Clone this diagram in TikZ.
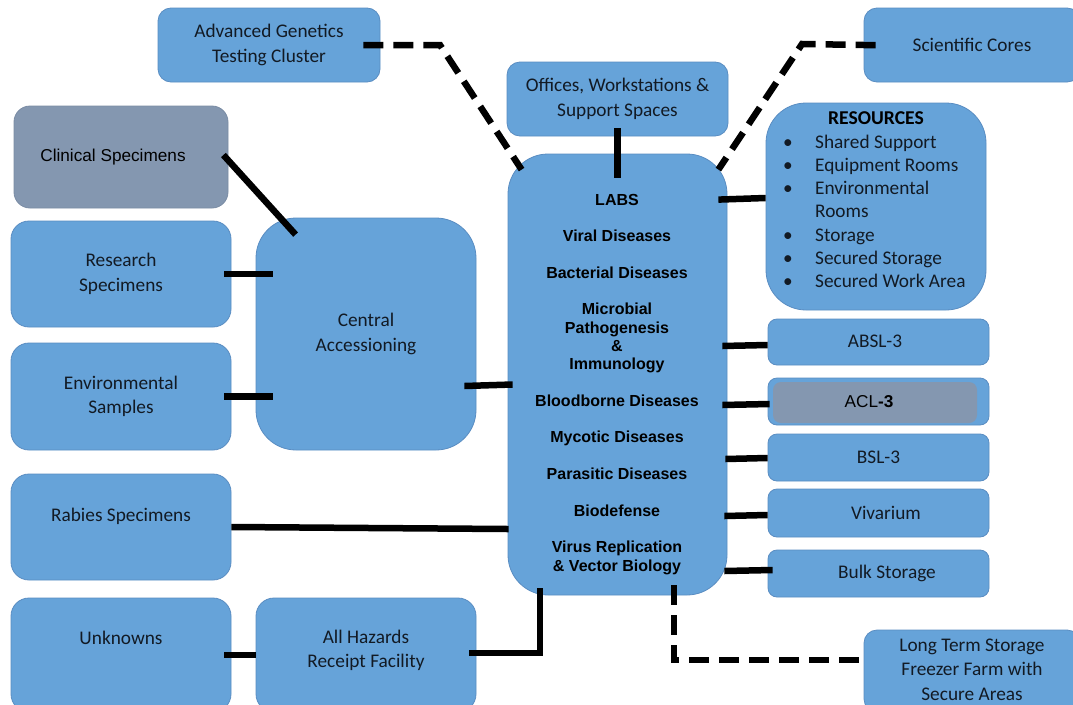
\documentclass[tikz,border=0pt]{standalone}
\usepackage{fontspec}
\setmainfont{Carlito}
\newfontfamily\arialfont{Liberation Sans}
\usetikzlibrary{calc}

\definecolor{boxblue}{HTML}{66A3D9}
\definecolor{boxedge}{HTML}{5A8DC2}
\definecolor{boxgray}{HTML}{8497B0}
\definecolor{grayedge}{HTML}{7A8CA4}
\definecolor{txtdark}{HTML}{121A24}

\begin{document}
\begin{tikzpicture}[x=1pt,y=-1pt,
  box/.style={draw=boxedge, line width=0.8pt, fill=boxblue, rounded corners=13pt,
    align=center, text=txtdark, inner sep=0pt,
    font=\fontsize{19.3}{24.3}\selectfont},
  bigbox/.style={box, rounded corners=40pt},
  slim/.style={box, rounded corners=9pt, minimum width=221pt},
  graybox/.style={box, fill=boxgray, draw=grayedge, text=black,
    font=\arialfont\fontsize{17.2}{20}\selectfont},
  conn/.style={line width=6.5pt, black},
  dconn/.style={conn, dash pattern=on 20pt off 10pt},
]
\useasboundingbox (0,0) rectangle (1073,704);
\fill[white] (0,0) rectangle (1073,704);

% top row
\node[box, minimum width=222pt, minimum height=74pt] (agtc) at (269,45) {\raisebox{-1pt}{\begin{tabular}{@{}c@{}}Advanced Genetics\\Testing Cluster\end{tabular}}};
\node[box, minimum width=216pt, minimum height=74pt] (cores) at (972,45) {Scientific Cores};
\node[box, minimum width=221pt, minimum height=74pt] (offices) at (617.5,99) {\raisebox{-1pt}{\begin{tabular}{@{}c@{}}Offices, Workstations \&\\Support Spaces\end{tabular}}};

% intake side
\node[graybox, minimum width=214pt, minimum height=102pt, rounded corners=16pt] (clinical) at (121,157) {\hspace*{-16pt}Clinical Specimens};
\node[box, minimum width=220pt, minimum height=106pt, rounded corners=18pt] (research) at (121,274) {Research\\Specimens};
\node[box, minimum width=220pt, minimum height=107pt, rounded corners=18pt] (environ) at (121,396.5) {Environmental\\Samples};
\node[bigbox, minimum width=220pt, minimum height=232pt] (central) at (366,334) {\raisebox{3pt}{\begin{tabular}{@{}c@{}}Central\\Accessioning\end{tabular}}};
\node[box, minimum width=220pt, minimum height=106pt, rounded corners=18pt] (rabies) at (121,527) {\raisebox{6pt}[0pt][0pt]{Rabies Specimens}};
\node[box, minimum width=220pt, minimum height=114pt, rounded corners=18pt] (unknowns) at (121,655) {\raisebox{11pt}[0pt][0pt]{Unknowns}};
\node[box, minimum width=220pt, minimum height=114pt, rounded corners=18pt] (hazards) at (366,655) {\raisebox{-1pt}[0pt][0pt]{\begin{tabular}{@{}c@{}}All Hazards\\Receipt Facility\end{tabular}}};

% laboratories
\node[bigbox, minimum width=219pt, minimum height=441pt] (labs) at (617.5,374.5) {};
\node[anchor=base, inner sep=0pt, text=black,
  font=\arialfont\bfseries\fontsize{16}{18.3}\selectfont] (labslist) at (617,205)
  {\begin{tabular}[t]{@{}c@{}}
   LABS\\[18.3pt]
   Viral Diseases\\[18.3pt]
   Bacterial Diseases\\[18.3pt]
   Microbial\\ Pathogenesis\\ \&\\ Immunology\\[18.3pt]
   Bloodborne Diseases\\[18.3pt]
   Mycotic Diseases\\[18.3pt]
   Parasitic Diseases\\[18.3pt]
   Biodefense\\[18.3pt]
   Virus Replication\\ \& Vector Biology
   \end{tabular}};

% resources
\node[bigbox, minimum width=220pt, minimum height=207pt] (resources) at (876,206.5) {};
\node[inner sep=0pt, text=black, font=\bfseries\fontsize{19.6}{22}\selectfont] (reshead) at (876,118) {RESOURCES};
\node[anchor=base west, inner sep=0pt, text=txtdark, font=\fontsize{19.3}{23.3}\selectfont] (reslist) at (783,148)
  {\begin{tabular}[t]{@{}l@{}}
   \makebox[32pt][l]{\textbullet}Shared Support\\
   \makebox[32pt][l]{\textbullet}Equipment Rooms\\
   \makebox[32pt][l]{\textbullet}Environmental\\
   \hspace*{32pt}Rooms\\
   \makebox[32pt][l]{\textbullet}Storage\\
   \makebox[32pt][l]{\textbullet}Secured Storage\\
   \makebox[32pt][l]{\textbullet}Secured Work Area
   \end{tabular}};

% containment and storage suites
\node[slim, minimum height=46pt] (absl) at (878.5,342) {\hspace*{-7pt}\raisebox{2pt}{ABSL-3}};
\node[slim, minimum height=47pt] (acl) at (878.5,401.5) {};
\node[graybox, draw=none, minimum width=204pt, minimum height=41pt, rounded corners=8pt] (aclin) at (875,402.5) {\hspace*{-12pt}\raisebox{3pt}{ACL\textbf{-3}}};
\node[slim, minimum height=47pt] (bsl) at (878.5,457.5) {BSL-3};
\node[slim, minimum height=48pt] (viv) at (878.5,513) {\hspace*{15pt}\raisebox{1pt}{Vivarium}};
\node[slim, minimum height=47pt] (bulk) at (878.5,573.5) {\hspace*{17pt}\raisebox{4pt}{Bulk Storage}};
\node[box, minimum width=216pt, minimum height=82pt] (lts) at (972,671) {\raisebox{6pt}{\begin{tabular}{@{}c@{}}Long Term Storage\\Freezer Farm with\\Secure Areas\end{tabular}}};

% bend points of the dashed links
\coordinate (agbend) at (440,45);
\coordinate (corebend) at (802,44);

% dashed links
\draw[dconn, shorten <=-17pt] (agtc.east) -- (agbend) -- ($(labs.north west)+(14,16)$);
\draw[dconn, shorten <=-12pt] (cores.west) -- (corebend) -- ($(labs.north east)+(-9,16)$);
\draw[dconn] ($(labs.south)+(56.5,-10)$) |- ($(lts.west)+(0,-11)$);

% solid links
\draw[conn, shorten <=-8pt, shorten >=-24pt] (offices.south) -- (labs.north);
\draw[conn] ($(labs.north east)+(-9,46)$) -- ($(resources.west)+(0,-8.5)$);
\draw[conn] ($(clinical.east)+(-5,-2)$) -- ($(central.north west)+(40,17)$);
\draw[conn, shorten <=-7pt, shorten >=-17pt] (research.east) -- (research.east -| central.west);
\draw[conn, shorten <=-7pt, shorten >=-17pt] (environ.east) -- (environ.east -| central.west);
\draw[conn] ($(central.east)+(-12,52)$) -- ($(labs.west)+(5,10)$);
\draw[conn, shorten >=-1pt] (rabies.east) -- ($(rabies.east -| labs.west)+(0,2)$);
\draw[conn, shorten <=-7pt] (unknowns.east) -- (hazards.west);
\draw[conn] ($(hazards.east)+(-7,-2)$) -| ($(labs.south)+(-77.5,-7)$);
\draw[conn] ($(absl.west)+(0,3)$) -- ($(absl.west -| labs.east)+(-5,4)$);
\draw[conn] ($(acl.west)+(2,2.5)$) -- ($(acl.west -| labs.east)+(-5,3.5)$);
\draw[conn] ($(bsl.west)+(0,0.5)$) -- ($(bsl.west -| labs.east)+(-2,1.5)$);
\draw[conn] ($(viv.west)+(0,2)$) -- ($(viv.west -| labs.east)+(-3,3)$);
\draw[conn] ($(bulk.west)+(5,-3.5)$) -- ($(bulk.west -| labs.east)+(-3,-2.5)$);
\end{tikzpicture}
\end{document}
